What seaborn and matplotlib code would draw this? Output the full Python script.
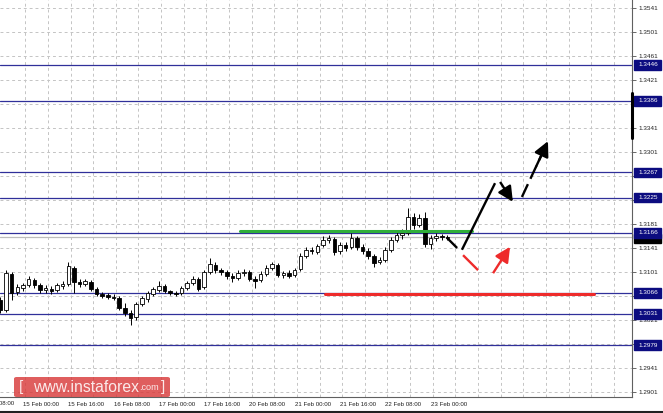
import numpy as np
import pandas as pd
import matplotlib
matplotlib.use("Agg")
import matplotlib.pyplot as plt
import matplotlib.transforms as mtransforms
from matplotlib.patches import Rectangle, FancyBboxPatch
from matplotlib.lines import Line2D
import seaborn as sns

# 2-hour bars, position in trading hours from 15 Feb 00:00 (weekend removed)
bar_start = -8
bar_step = 2
opens = [1.3054, 1.3038, 1.3097, 1.3068, 1.3074, 1.3079, 1.3088, 1.3079, 1.3071, 1.3072,
         1.3071, 1.3077, 1.3081, 1.3107, 1.3084, 1.3081, 1.3084, 1.3072, 1.3064, 1.3062,
         1.3059, 1.3057, 1.3041, 1.3032, 1.3026, 1.3047, 1.3056, 1.3064, 1.3071, 1.3077,
         1.3069, 1.3066, 1.3066, 1.3074, 1.3082, 1.3089, 1.3076, 1.3101, 1.3112, 1.3104,
         1.3101, 1.3094, 1.3091, 1.3099, 1.3101, 1.3089, 1.3087, 1.3097, 1.3107, 1.3112,
         1.3096, 1.3099, 1.3096, 1.3106, 1.3127, 1.3137, 1.3134, 1.3146, 1.3154, 1.3156,
         1.3136, 1.3146, 1.3142, 1.3157, 1.3142, 1.3136, 1.3127, 1.3117, 1.3121, 1.3137,
         1.3154, 1.3162, 1.3166, 1.3192, 1.3179, 1.3191, 1.3147, 1.3157, 1.3161, 1.3159]
highs = [1.3060, 1.3104, 1.3101, 1.3081, 1.3082, 1.3094, 1.3091, 1.3082, 1.3079, 1.3077,
         1.3082, 1.3086, 1.3117, 1.3111, 1.3089, 1.3089, 1.3087, 1.3076, 1.3067, 1.3066,
         1.3064, 1.3061, 1.3049, 1.3037, 1.3051, 1.3061, 1.3069, 1.3076, 1.3086, 1.3081,
         1.3071, 1.3069, 1.3077, 1.3086, 1.3094, 1.3092, 1.3104, 1.3124, 1.3117, 1.3107,
         1.3104, 1.3099, 1.3104, 1.3106, 1.3104, 1.3094, 1.3102, 1.3112, 1.3117, 1.3116,
         1.3102, 1.3104, 1.3107, 1.3132, 1.3142, 1.3142, 1.3147, 1.3161, 1.3162, 1.3159,
         1.3151, 1.3151, 1.3166, 1.3161, 1.3147, 1.3141, 1.3131, 1.3126, 1.3142, 1.3159,
         1.3169, 1.3172, 1.3207, 1.3199, 1.3197, 1.3201, 1.3162, 1.3166, 1.3164, 1.3162]
lows = [1.3033, 1.3034, 1.3054, 1.3063, 1.3069, 1.3076, 1.3074, 1.3066, 1.3066, 1.3064,
        1.3068, 1.3072, 1.3077, 1.3066, 1.3076, 1.3077, 1.3069, 1.3061, 1.3057, 1.3056,
        1.3054, 1.3037, 1.3027, 1.3012, 1.3021, 1.3044, 1.3051, 1.3061, 1.3067, 1.3066,
        1.3062, 1.3061, 1.3062, 1.3071, 1.3079, 1.3069, 1.3072, 1.3097, 1.3099, 1.3096,
        1.3089, 1.3084, 1.3087, 1.3094, 1.3086, 1.3074, 1.3084, 1.3094, 1.3104, 1.3092,
        1.3091, 1.3091, 1.3092, 1.3102, 1.3124, 1.3131, 1.3131, 1.3142, 1.3149, 1.3129,
        1.3131, 1.3136, 1.3139, 1.3137, 1.3131, 1.3122, 1.3109, 1.3114, 1.3117, 1.3134,
        1.3151, 1.3156, 1.3162, 1.3172, 1.3176, 1.3142, 1.3139, 1.3152, 1.3154, 1.3154]
closes = [1.3038, 1.3099, 1.3066, 1.3076, 1.3079, 1.3089, 1.3079, 1.3071, 1.3074, 1.3069,
          1.3079, 1.3081, 1.3111, 1.3084, 1.3081, 1.3086, 1.3072, 1.3064, 1.3061, 1.3059,
          1.3057, 1.3041, 1.3032, 1.3024, 1.3047, 1.3057, 1.3066, 1.3072, 1.3077, 1.3069,
          1.3066, 1.3064, 1.3074, 1.3082, 1.3089, 1.3072, 1.3101, 1.3114, 1.3104, 1.3101,
          1.3094, 1.3091, 1.3099, 1.3101, 1.3089, 1.3086, 1.3097, 1.3107, 1.3114, 1.3096,
          1.3099, 1.3094, 1.3104, 1.3127, 1.3137, 1.3136, 1.3144, 1.3154, 1.3157, 1.3134,
          1.3146, 1.3141, 1.3157, 1.3142, 1.3136, 1.3127, 1.3116, 1.3121, 1.3137, 1.3154,
          1.3162, 1.3166, 1.3192, 1.3179, 1.3191, 1.3147, 1.3157, 1.3161, 1.3159, 1.3157]

levels = [1.3446, 1.3386, 1.3267, 1.3225, 1.3166, 1.3066, 1.3031, 1.2979]
level_labels = ['1.3446', '1.3386', '1.3267', '1.3225', '1.3166', '1.3066', '1.3031', '1.2979']
price_ticks = [1.2901, 1.2941, 1.2981, 1.3021, 1.3061, 1.3101, 1.3141, 1.3181, 1.3221,
               1.3261, 1.3301, 1.3341, 1.3381, 1.3421, 1.3461, 1.3501, 1.3541]
bid_price = 1.3160

time_hours = [0, 16, 32, 48, 64, 80, 96, 112, 128, 144]
time_labels = ['15 Feb 00:00', '15 Feb 16:00', '16 Feb 08:00', '17 Feb 00:00',
               '17 Feb 16:00', '20 Feb 08:00', '21 Feb 00:00', '21 Feb 16:00', '22 Feb 08:00',
               '23 Feb 00:00']
first_label_hour = -16
first_label = '14 Feb 08:00'

# resistance (green) and support (red) marks
green_hours = [76.7, 158.7]
green_price = [1.3169, 1.3169]
red_hours = [106.7, 201.8]
red_price = [1.3065, 1.3065]

# forecast paths: (hour, price) pairs
black_dash = [(149.8, 1.3158), (153.4, 1.3141)]
black_up = [(155.1, 1.3138), (166.8, 1.3249)]
black_pullback = [(168.6, 1.3251), (173.1, 1.3218)]
black_target = [(176.3, 1.3226), (185.5, 1.3319)]
red_down = [(155.5, 1.3129), (160.8, 1.3104)]
red_rebound = [(166.1, 1.3099), (172.1, 1.3143)]

sns.set_theme(style="white")
plt.rcParams['font.family'] = ['Liberation Sans', 'DejaVu Sans']

fig = plt.figure(figsize=(6.63, 4.13), dpi=100)
fig.patch.set_facecolor('white')
ax = fig.add_axes([0, 16 / 413, 632 / 663, 397 / 413])
ax.set_facecolor('white')

bars = pd.DataFrame({'open': opens, 'high': highs, 'low': lows, 'close': closes})
bars['hour'] = bar_start + bar_step * np.arange(len(bars))
up = bars['close'] >= bars['open']

ax.vlines(bars['hour'], bars['low'], bars['high'], color='black', lw=0.7, zorder=3)
ax.bar(bars['hour'][up], (bars['close'] - bars['open'])[up].clip(lower=0.00005),
       bottom=bars['open'][up], width=1.25, color='white', edgecolor='black', lw=0.6, zorder=4)
ax.bar(bars['hour'][~up], (bars['open'] - bars['close'])[~up],
       bottom=bars['close'][~up], width=1.25, color='black', edgecolor='black', lw=0.6, zorder=4)

# grid
for p in price_ticks:
    ax.axhline(p, color='#c4c4c4', lw=0.7, ls=(0, (3, 3)), zorder=1)
for h in np.arange(0.8, 216, 8):
    ax.axvline(h, color='#c4c4c4', lw=0.7, ls=(0, (3, 3)), zorder=1)

# level lines
for lv in levels:
    ax.axhline(lv, color='#30309a', lw=0.9, zorder=2)
ax.axhline(bid_price, color='#bcbcbc', lw=0.9, zorder=2)

marks = pd.DataFrame({'hour': green_hours + red_hours,
                      'price': green_price + red_price,
                      'kind': ['res', 'res', 'sup', 'sup']})
sns.lineplot(data=marks, x='hour', y='price', hue='kind',
             palette={'res': '#2fae3a', 'sup': '#ee2b2b'}, lw=2.2,
             legend=False, ax=ax, zorder=5)


def part(points, frac):
    (x0, y0), (x1, y1) = points
    return [(x0, y0), (x0 + frac * (x1 - x0), y0 + frac * (y1 - y0))]


def seg(points, color, **kw):
    xs, ys = zip(*points)
    ax.plot(xs, ys, color=color, lw=1.7, solid_capstyle='butt', zorder=6, **kw)


def head(points, color):
    (x0, y0), (x1, y1) = points
    ax.annotate('', xy=(x1, y1), xytext=(x0 + 0.55 * (x1 - x0), y0 + 0.55 * (y1 - y0)),
                arrowprops=dict(arrowstyle='-|>,head_length=0.9,head_width=0.45',
                                color=color, lw=1.7, shrinkA=0, shrinkB=0,
                                mutation_scale=10), zorder=7)


seg(black_dash, 'black')
seg(black_up, 'black')
seg(part(black_pullback, 0.5), 'black')
head(black_pullback, 'black')
seg(part(black_target, 0.8), 'black', ls=(0, (6, 2.5)))
head(black_target, 'black')
seg(red_down, '#ee2b2b')
seg(part(red_rebound, 0.5), '#ee2b2b')
head(red_rebound, '#ee2b2b')

# axes decoration
for side in ['left', 'top']:
    ax.spines[side].set_visible(False)
for side in ['right', 'bottom']:
    ax.spines[side].set_color('#606060')
    ax.spines[side].set_linewidth(0.8)

ax.yaxis.tick_right()
ax.set_yticks(price_ticks)
ax.set_yticklabels([f'{p:.4f}' for p in price_ticks])
ax.tick_params(axis='y', length=3, width=0.6, color='#505050', pad=1.5,
               labelsize=4.6, labelcolor='#202020')
ax.set_xticks(time_hours)
ax.set_xticklabels(time_labels, ha='left')
ax.tick_params(axis='x', length=2, width=0.6, color='#505050', pad=1.5,
               labelsize=4.4, labelcolor='#202020')
ax.set_xlabel('')
ax.set_ylabel('')

ax.set_xlim(-8.13, 215.2)
ax.set_ylim(1.28926, 1.35543)

# the first time label starts left of the chart and is cut by the edge
ax.text(first_label_hour, -0.0095, first_label, transform=mtransforms.blended_transform_factory(
    ax.transData, ax.transAxes), fontsize=4.4, color='#202020', ha='left', va='top', clip_on=False)

# price boxes on the right scale
trans = mtransforms.blended_transform_factory(ax.transAxes, ax.transData)
box_h = 9.5 / 6000
ax.add_patch(Rectangle((1.003, bid_price - box_h / 2 - 0.0003), 0.043, box_h,
                       transform=trans, color='black', clip_on=False, zorder=8))
for lv, lab in zip(levels, level_labels):
    ax.add_patch(Rectangle((1.003, lv - box_h / 2), 0.043, box_h, transform=trans,
                           color='#0c0c80', clip_on=False, zorder=9))
    ax.text(1.0095, lv, lab, transform=trans, color='white', fontsize=4.6,
            va='center', ha='left', zorder=10, clip_on=False)
ax.add_line(Line2D([1.0, 1.0], [1.3324, 1.3399], transform=trans, color='black',
                   lw=2.2, clip_on=False, zorder=9))

# watermark
wm = FancyBboxPatch((14 / 663, 16 / 413), 156 / 663, 20 / 413,
                    boxstyle='round,pad=0,rounding_size=0.004',
                    transform=fig.transFigure, fc='#d83a3a', ec='none', alpha=0.82, zorder=20)
fig.add_artist(wm)
fig.text(19 / 663, 26 / 413, '[', color='#fbe9e9', fontsize=11, va='center', zorder=21)
fig.text(33 / 663, 26 / 413, 'www.instaforex', color='#fbe9e9', fontsize=11.3,
         va='center', zorder=21)
fig.text(139.5 / 663, 25 / 413, '.com', color='#fbe9e9', fontsize=6.6, va='center', zorder=21)
fig.text(161 / 663, 26 / 413, ']', color='#fbe9e9', fontsize=11, va='center', zorder=21)

fig.add_artist(Line2D([0, 1], [1.5 / 413, 1.5 / 413], transform=fig.transFigure,
                      color='#202020', lw=1.5))

fig.savefig('out.png', dpi=100, facecolor='white')
